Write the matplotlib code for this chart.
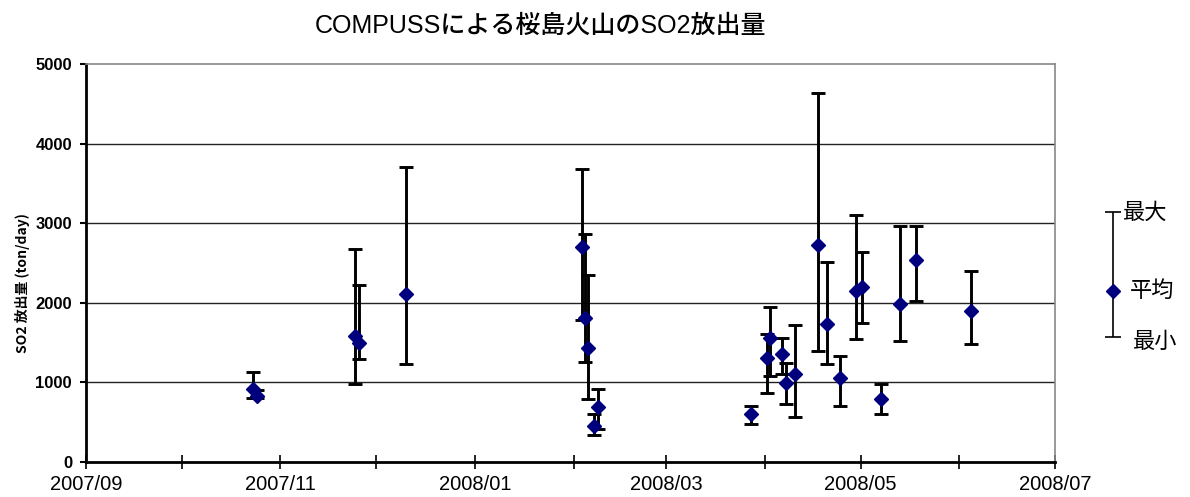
import matplotlib
matplotlib.use("Agg")
import matplotlib.pyplot as plt
import matplotlib.dates as mdates
import numpy as np
import pandas as pd

plt.rcParams['font.family'] = ['Liberation Sans', 'Noto Sans CJK JP', 'DejaVu Sans']

# --- data ---
dates = [
    "2007-10-23", "2007-10-24", "2007-11-24", "2007-11-25", "2007-12-10",
    "2008-02-03", "2008-02-04", "2008-02-05", "2008-02-07", "2008-02-08",
    "2008-03-27", "2008-04-01", "2008-04-02", "2008-04-06", "2008-04-07",
    "2008-04-10", "2008-04-17", "2008-04-20", "2008-04-24", "2008-04-29",
    "2008-05-01", "2008-05-07", "2008-05-13", "2008-05-18", "2008-06-04",
]
so2_mean = [917, 829, 1583, 1499, 2107,
            2705, 1813, 1428, 452, 687,
            599, 1311, 1562, 1353, 996,
            1102, 2730, 1730, 1059, 2148,
            2203, 788, 1981, 2538, 1897]
so2_min = [808, 800, 976, 1294, 1235,
           1784, 1256, 787, 339, 419,
           477, 863, 1080, 1100, 729,
           561, 1398, 1231, 703, 1545,
           1742, 603, 1520, 2026, 1478]
so2_max = [1134, 900, 2680, 2228, 3702,
           3681, 2864, 2353, 600, 913,
           707, 1604, 1951, 1562, 1248,
           1721, 4640, 2517, 1332, 3107,
           2638, 980, 2969, 2969, 2395]

# legend sample (max / mean / min)
legend_vals = [3140, 2150, 1570]

NAVY = "#00007f"

x = pd.to_datetime(dates) + pd.Timedelta(hours=12)
mean = np.array(so2_mean)
lo = mean - np.array(so2_min)
hi = np.array(so2_max) - mean

fig = plt.figure(figsize=(11.9, 4.97), dpi=100)
ax = fig.add_axes([86 / 1190, 35 / 497, 969 / 1190, 398 / 497])

ax.errorbar(x, mean, yerr=[lo, hi], fmt="D", color=NAVY, ms=7,
            ecolor="black", elinewidth=2.1, capsize=5, capthick=2.1, zorder=3)

ax.set_ylim(0, 5000)
ax.set_yticks(range(0, 5001, 1000))
ax.set_xlim(pd.Timestamp("2007-09-01"), pd.Timestamp("2008-07-01"))
ax.xaxis.set_major_locator(mdates.MonthLocator(bymonth=[1, 3, 5, 7, 9, 11]))
ax.xaxis.set_minor_locator(mdates.MonthLocator())
ax.xaxis.set_major_formatter(mdates.DateFormatter("%Y/%m"))

for yv in range(1000, 5000, 1000):
    ax.axhline(yv, color="#222222", lw=1, zorder=1)

for s in ("top", "right"):
    ax.spines[s].set_color("#888888")
    ax.spines[s].set_linewidth(1.2)
for s in ("left", "bottom"):
    ax.spines[s].set_color("black")
    ax.spines[s].set_linewidth(2)

ax.tick_params(axis="y", direction="out", length=4, width=1.5, pad=6,
               labelsize=12)
ax.tick_params(axis="x", which="both", direction="inout", length=10,
               width=1.2, pad=4, labelsize=14.5)
for lab in ax.get_yticklabels():
    lab.set_fontweight("bold")

ax.set_ylabel("SO2 放出量 (ton/day)", fontsize=10, fontweight="bold",
              family=["Noto Sans CJK JP", "DejaVu Sans"])
ax.yaxis.set_label_coords(-0.058, 0.45)

fig.text(540 / 1190, 1 - 26 / 497, "COMPUSSによる桜島火山のSO2放出量",
         ha="center", va="center", fontsize=18, fontweight="medium",
         family=["Liberation Sans", "Noto Sans CJK JP", "DejaVu Sans"])

# legend drawn as a small sample bar outside the plot
lax = fig.add_axes([1090 / 1190, 35 / 497, 100 / 1190, 398 / 497])
lax.set_xlim(0, 1)
lax.set_ylim(0, 5000)
lax.axis("off")
lax.errorbar([0.23], [legend_vals[1]],
             yerr=[[legend_vals[1] - legend_vals[2]], [legend_vals[0] - legend_vals[1]]],
             fmt="D", color=NAVY, ms=7, ecolor="black", elinewidth=1.2,
             capsize=6, capthick=1.2)
cjk = ["Noto Sans CJK JP", "DejaVu Sans"]
lax.text(0.33, legend_vals[0], "最大", va="center", fontsize=16, family=cjk)
lax.text(0.40, legend_vals[1], "平均", va="center", fontsize=16, family=cjk)
lax.text(0.43, legend_vals[2] - 60, "最小", va="center", fontsize=16, family=cjk)

fig.savefig("out.png", dpi=100, facecolor="white")
